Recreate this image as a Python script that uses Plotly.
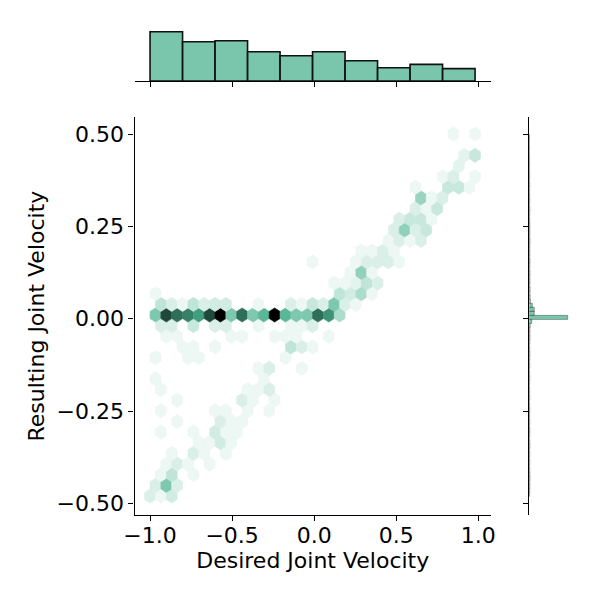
import colorsys

import numpy as np
import plotly.graph_objects as go

# ---- data -------------------------------------------------------------
# hexbin lattice (matplotlib style): 30 cells across x, 17 across y
X_MIN, X_MAX = -1.0, 0.98
Y_MIN, Y_MAX = -0.48, 0.50
NX, NY = 30, 17

# hex cells: half-row index (odd rows are shifted half a cell), column, count
hex_row = [0, 0, 0,
           1, 1, 1,
           2, 2, 2,
           3, 3, 3, 3,
           4, 4, 4, 4,
           5, 5, 5, 5,
           6, 6, 6, 6, 6,
           7, 7, 7, 7,
           8, 8, 8, 8, 8,
           9, 9, 9, 9,
           10, 10, 10, 10,
           11, 11,
           12, 12, 12,
           13, 13, 13, 13,
           14, 14, 14, 14, 14, 14,
           15, 15, 15, 15, 15, 15, 15, 15,
           16, 16, 16, 16, 16, 16, 16, 16, 16,
           17, 17, 17, 17, 17, 17, 17, 17, 17, 17, 17, 17, 17, 17, 17, 17, 17, 17,
           18, 18, 18, 18, 18, 18, 18, 18, 18, 18, 18, 18, 18, 18, 18,
           19, 19, 19, 19, 19,
           20, 20, 20, 20, 20,
           21, 21, 21,
           22, 22, 22, 22, 22, 22,
           23, 23, 23, 23,
           24, 24, 24, 24,
           25, 25, 25, 25,
           26, 26, 26, 26,
           27, 27, 27,
           28, 28, 28,
           29, 29, 29, 29,
           30, 30, 30,
           31,
           32, 32,
           34, 34]
hex_col = [0, 1, 2,
           0, 1, 2,
           1, 2, 4,
           1, 2, 3, 5,
           2, 4, 5, 7,
           4, 5, 6, 7,
           1, 4, 6, 7, 8,
           2, 6, 7, 8,
           1, 6, 7, 9, 11,
           2, 8, 9, 11,
           1, 9, 10, 11,
           0, 10,
           10, 11, 14,
           0, 3, 4, 12,
           3, 4, 6, 13, 14, 15,
           1, 2, 7, 8, 11, 12, 13, 16,
           1, 2, 4, 6, 7, 10, 13, 14, 15,
           0, 1, 2, 3, 4, 5, 6, 7, 8, 9, 10, 11, 12, 13, 14, 15, 16, 17,
           1, 2, 3, 4, 5, 6, 7, 10, 13, 14, 15, 16, 17, 18, 19,
           0, 17, 18, 19, 20,
           17, 18, 19, 20, 21,
           18, 19, 20,
           15, 19, 20, 21, 22, 23,
           19, 20, 21, 22,
           22, 23, 24, 25,
           22, 23, 24, 25,
           23, 24, 25, 26,
           24, 25, 26,
           25, 26, 27,
           24, 27, 28, 29,
           27, 28, 30,
           28,
           29, 30,
           28, 30]
hex_count = [5, 3, 6,
             5, 15, 5,
             3, 8, 3,
             3, 5, 3, 3,
             3, 5, 3, 3,
             3, 3, 6, 3,
             3, 3, 6, 3, 3,
             3, 5, 3, 3,
             3, 3, 3, 3, 3,
             3, 5, 3, 3,
             3, 3, 3, 5,
             3, 3,
             3, 5, 3,
             3, 3, 3, 3,
             3, 3, 3, 8, 5, 3,
             3, 3, 3, 3, 3, 3, 3, 3,
             5, 5, 7, 5, 5, 3, 3, 3, 5,
             15, 32, 28, 26, 23, 32, 40, 15, 28, 15, 19, 40, 19, 15, 15, 28, 24, 10,
             8, 5, 3, 8, 5, 6, 6, 3, 5, 3, 7, 5, 15, 5, 3,
             3, 8, 6, 10, 3,
             3, 3, 4, 8, 5,
             3, 13, 3,
             3, 3, 5, 5, 5, 3,
             3, 3, 5, 3,
             3, 5, 3, 5,
             5, 13, 5, 7,
             5, 7, 7, 3,
             5, 3, 7,
             12, 3, 5,
             3, 7, 7, 3,
             3, 5, 3,
             4,
             4, 7,
             3, 3]

# marginal histogram of desired velocity (10 bins)
top_counts = [148, 118, 121, 88, 76, 88, 61, 40, 50, 37]

# marginal histogram of resulting velocity (90 thin bins, bottom to top)
Y_BIN_START, Y_BIN_W = -0.4815, 0.0109
right_counts = [3, 4, 5, 4, 6, 5, 4, 3, 4, 3,
                4, 3, 5, 4, 3, 4, 5, 3, 4, 3,
                3, 4, 3, 2, 4, 3, 3, 2, 3, 4,
                3, 2, 4, 3, 4, 5, 4, 3, 5, 6,
                5, 6, 8, 21, 330, 43, 43, 26, 9, 7,
                6, 7, 5, 6, 5, 6, 4, 5, 6, 4,
                5, 4, 5, 6, 4, 5, 4, 5, 4, 3,
                4, 5, 3, 4, 4, 3, 3, 4, 2, 3,
                3, 2, 3, 2, 2, 1, 2, 1, 1, 2]

x_ticks = [-1.0, -0.5, 0.0, 0.5, 1.0]
x_tick_labels = ['\u22121.0', '\u22120.5', '0.0', '0.5', '1.0']
y_ticks = [-0.5, -0.25, 0.0, 0.25, 0.5]
y_tick_labels = ['\u22120.50', '\u22120.25', '0.00', '0.25', '0.50']

BASE = '#4CB391'
BAR_FILL = 'rgba(76,179,145,0.75)'
FONT = 'DejaVu Sans'

# ---- colour map like seaborn's hex jointplot ---------------------------
rgb = [int(BASE[k:k + 2], 16) / 255 for k in (1, 3, 5)]
hh, ll, ss = colorsys.rgb_to_hls(*rgb)
stops = [colorsys.hls_to_rgb(hh, lv, ss) for lv in np.linspace(1, 0, 12)]


def cmap(v):
    p = min(max(v, 0), 1) * 11
    k = min(int(p), 10)
    f = p - k
    c = [stops[k][m] + (stops[k + 1][m] - stops[k][m]) * f for m in range(3)]
    return 'rgb(%d,%d,%d)' % tuple(round(x * 255) for x in c)


sx = (X_MAX - X_MIN) / NX
sy = (Y_MAX - Y_MIN) / NY
hex_shape = [(.5, -.5), (.5, .5), (0, 1), (-.5, .5), (-.5, -.5), (0, -1)]
vmax = max(hex_count)

shapes = []
cx, cy = [], []
for r, c, n in zip(hex_row, hex_col, hex_count):
    x0 = X_MIN + (c + 0.5 * (r % 2)) * sx
    y0 = Y_MIN + r * sy / 2
    cx.append(x0)
    cy.append(y0)
    pts = [(x0 + dx * sx, y0 + dy * sy / 3) for dx, dy in hex_shape]
    path = 'M' + 'L'.join('%.5f,%.5f' % p for p in pts) + 'Z'
    col = cmap((n - 1) / (vmax - 1))
    shapes.append(dict(type='path', path=path, xref='x', yref='y',
                       fillcolor=col, line=dict(color=col, width=0.6),
                       layer='below'))

fig = go.Figure()
fig.add_trace(go.Scatter(x=cx, y=cy, mode='markers',
                         marker=dict(size=2, opacity=0), hoverinfo='skip'))

top_w = (X_MAX - X_MIN) / len(top_counts)
fig.add_trace(go.Bar(x=[X_MIN + (k + 0.5) * top_w for k in range(len(top_counts))],
                     y=top_counts, width=top_w, xaxis='x2', yaxis='y2',
                     marker=dict(color=BAR_FILL, line=dict(color='#111111', width=1.6))))
fig.add_trace(go.Bar(y=[Y_BIN_START + (k + 0.5) * Y_BIN_W for k in range(len(right_counts))],
                     x=right_counts, width=Y_BIN_W, orientation='h',
                     xaxis='x3', yaxis='y3',
                     marker=dict(color=BAR_FILL, line=dict(color='rgba(0,0,0,0.6)', width=0.5))))

axis_style = dict(showline=True, linecolor='black', linewidth=1.2,
                  ticks='outside', ticklen=5, tickwidth=1.2, tickcolor='black',
                  showgrid=False, zeroline=False, automargin=False)
x_range = [-1.0947, 1.0771]
y_range = [-0.5315, 0.5453]
x_dom = [0.22417, 0.81833]
y_dom = [0.14167, 0.8045]

fig.update_layout(
    width=600, height=600,
    margin=dict(l=0, r=0, t=0, b=0, autoexpand=False),
    paper_bgcolor='white', plot_bgcolor='white',
    showlegend=False,
    font=dict(family=FONT, size=22, color='black'),
    shapes=shapes,
    xaxis=dict(domain=x_dom, range=x_range, anchor='y',
               tickvals=x_ticks, ticktext=x_tick_labels,
               tickfont=dict(size=22), ticklabelstandoff=-4,
               title=dict(text='Desired Joint Velocity', standoff=0,
                          font=dict(size=22)),
               **axis_style),
    yaxis=dict(domain=y_dom, range=y_range, anchor='x',
               tickvals=y_ticks, ticktext=y_tick_labels,
               tickfont=dict(size=22),
               title=dict(text='Resulting Joint Velocity', standoff=5,
                          font=dict(size=22)),
               **axis_style),
    xaxis2=dict(domain=x_dom, range=x_range, anchor='y2',
                tickvals=x_ticks, showticklabels=False, **axis_style),
    yaxis2=dict(domain=[0.865, 0.96667], range=[0, 183.1], anchor='x2',
                visible=False),
    xaxis3=dict(domain=[0.88217, 0.98333], range=[0, 521.6], anchor='y3',
                visible=False),
    yaxis3=dict(domain=y_dom, range=y_range, anchor='x3',
                tickvals=y_ticks, showticklabels=False, **axis_style),
)

# the page body has a default margin; drop it so the 600x600 figure fills the window
fig.write_html('out.html', config={'displayModeBar': False},
               post_script="document.body.style.margin='0px';")
